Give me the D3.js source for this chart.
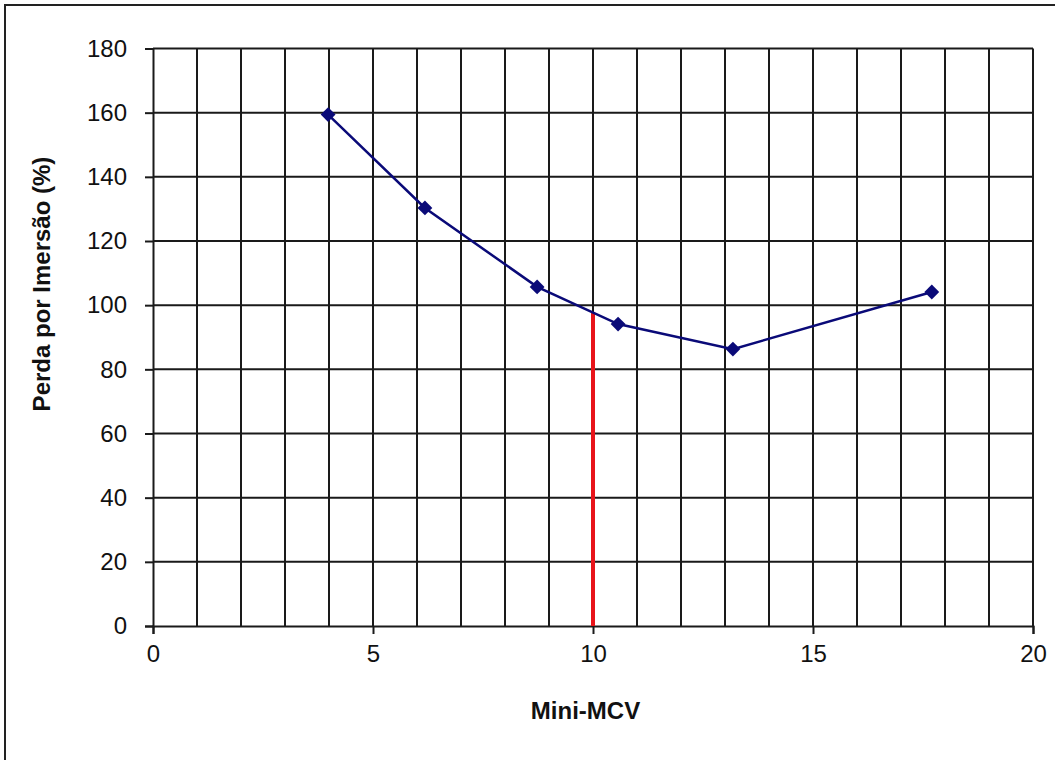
<!DOCTYPE html>
<html>
<head>
<meta charset="utf-8">
<script src="https://cdn.jsdelivr.net/npm/d3@7"></script>
<style>
  html, body { margin: 0; padding: 0; background: #fff; }
  svg { display: block; font-family: "Liberation Sans", Arial, sans-serif; }
</style>
</head>
<body>
<svg id="chart" width="1055" height="760"></svg>
<script>
// Mini-MCV vs. immersion loss
const miniMCV = [3.98, 6.18, 8.73, 10.57, 13.18, 17.7];
const perdaImersao = [159.4, 130.3, 105.7, 94.1, 86.3, 104.1];
const xTicks = [0, 5, 10, 15, 20];
const yTicks = [0, 20, 40, 60, 80, 100, 120, 140, 160, 180];
// reference marker at Mini-MCV = 10
const refX = 10;
const refY = 97.7;

const svg = d3.select("#chart");
const W = 1055, H = 760;
const m = { left: 153, right: 1033, top: 48.5, bottom: 626 };

// outer frame
svg.append("rect")
  .attr("x", 5).attr("y", 5).attr("width", W + 10).attr("height", H + 10)
  .attr("fill", "#fff").attr("stroke", "#222").attr("stroke-width", 2);

const x = d3.scaleLinear().domain([0, 20]).range([m.left, m.right]);
const y = d3.scaleLinear().domain([0, 180]).range([m.bottom, m.top]);

const grid = svg.append("g").attr("stroke", "#1a1a1a").attr("stroke-width", 2);
// vertical gridlines each unit
grid.selectAll("line.v").data(d3.range(1, 21)).join("line")
  .attr("x1", d => x(d)).attr("x2", d => x(d))
  .attr("y1", m.top).attr("y2", m.bottom);
// horizontal gridlines
grid.selectAll("line.h").data(yTicks.filter(d => d > 0)).join("line")
  .attr("x1", m.left).attr("x2", m.right)
  .attr("y1", d => y(d)).attr("y2", d => y(d));

// axes
const yAxis = svg.append("g")
  .attr("transform", `translate(${m.left},0)`)
  .call(d3.axisLeft(y).tickValues(yTicks).tickSize(8).tickPadding(18));
const xAxis = svg.append("g")
  .attr("transform", `translate(0,${m.bottom})`)
  .call(d3.axisBottom(x).tickValues(xTicks).tickSize(8).tickPadding(11));
[yAxis, xAxis].forEach(a => {
  a.select(".domain").attr("stroke", "#1a1a1a").attr("stroke-width", 2);
  a.selectAll(".tick line").attr("stroke", "#1a1a1a").attr("stroke-width", 2);
  a.selectAll(".tick text").attr("fill", "#111").style("font-size", "24px")
    .style("font-family", "'Liberation Sans', Arial, sans-serif");
});

// red reference line
svg.append("line")
  .attr("x1", x(refX)).attr("x2", x(refX))
  .attr("y1", y(0)).attr("y2", y(refY))
  .attr("stroke", "#e8141a").attr("stroke-width", 4);

// data line
const pts = miniMCV.map((v, i) => [v, perdaImersao[i]]);
svg.append("path")
  .datum(pts)
  .attr("fill", "none").attr("stroke", "#0a0a78").attr("stroke-width", 2.5)
  .attr("d", d3.line().x(d => x(d[0])).y(d => y(d[1])));

svg.selectAll("path.marker").data(pts).join("path")
  .attr("class", "marker")
  .attr("d", d3.symbol(d3.symbolDiamond2, 140)())
  .attr("transform", d => `translate(${x(d[0])},${y(d[1])})`)
  .attr("fill", "#0a0a78");

// axis titles
svg.append("text")
  .attr("x", 585.5).attr("y", 719)
  .attr("text-anchor", "middle")
  .style("font-size", "24px").style("font-weight", "bold").attr("fill", "#111")
  .text("Mini-MCV");
svg.append("text")
  .attr("transform", "translate(50,284) rotate(-90)")
  .attr("text-anchor", "middle")
  .style("font-size", "24px").style("font-weight", "bold").attr("fill", "#111")
  .text("Perda por Imersão (%)");
</script>
</body>
</html>
